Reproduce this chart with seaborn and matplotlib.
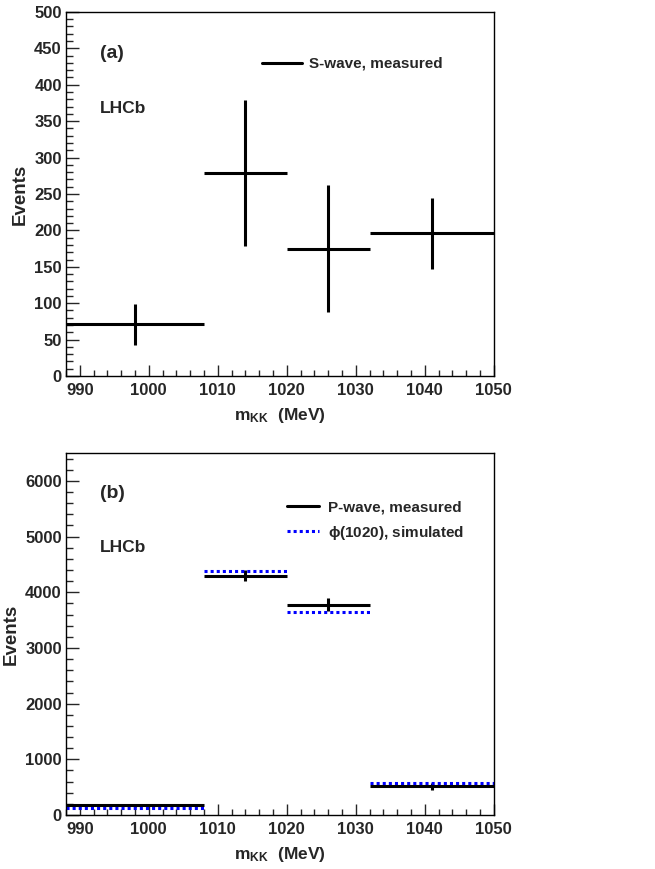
import numpy as np
import pandas as pd
import matplotlib
matplotlib.use("Agg")
import matplotlib.pyplot as plt
from matplotlib.lines import Line2D
from matplotlib.ticker import MultipleLocator
import seaborn as sns

# bin edges in m_KK (MeV)
bin_edges = [988, 1008, 1020, 1032, 1050]

# panel (a): S-wave yield
s_wave = [71, 279, 175, 196]
s_wave_err = [28, 100, 87, 49]

# panel (b): P-wave yield and phi(1020) simulation
p_wave = [175, 4295, 3780, 515]
p_wave_err = [30, 100, 110, 60]
phi_sim = [130, 4390, 3650, 570]

sns.set_theme(style="ticks")
plt.rcParams.update({
	"font.family": ["Liberation Sans", "DejaVu Sans"],
	"font.weight": "bold",
	"axes.labelweight": "bold",
	"axes.linewidth": 1.0,
	"axes.edgecolor": "black",
	"mathtext.fontset": "custom",
	"mathtext.rm": "Liberation Sans:weight=bold",
	"mathtext.bf": "Liberation Sans:weight=bold",
	"mathtext.it": "Liberation Sans:weight=bold",
	"mathtext.sf": "Liberation Sans:weight=bold",
})

edges = np.array(bin_edges, dtype=float)
centers = 0.5 * (edges[1:] + edges[:-1])
half = 0.5 * (edges[1:] - edges[:-1])

df_a = pd.DataFrame({"m": centers, "half": half, "n": s_wave, "err": s_wave_err})
df_b = pd.DataFrame({"m": centers, "half": half, "n": p_wave, "err": p_wave_err, "sim": phi_sim})

fig = plt.figure(figsize=(6.55, 8.69), dpi=100)
ax_a = fig.add_axes([0.1008, 0.5673, 0.653, 0.419])
ax_b = fig.add_axes([0.1008, 0.0621, 0.653, 0.4166])

lw = 2.2
font_size = 12


def style_axis(ax, ymax, ymajor, yminor):
	ax.set_xlim(988, 1050)
	ax.set_ylim(0, ymax)
	ax.xaxis.set_major_locator(MultipleLocator(10))
	ax.xaxis.set_minor_locator(MultipleLocator(2))
	ax.yaxis.set_major_locator(MultipleLocator(ymajor))
	ax.yaxis.set_minor_locator(MultipleLocator(yminor))
	ax.tick_params(axis="x", which="major", direction="in", length=7.7, width=1, pad=5,
		labelsize=font_size, top=False)
	ax.tick_params(axis="x", which="minor", direction="in", length=4, width=1, top=False)
	ax.tick_params(axis="y", which="major", direction="in", length=9, width=1, pad=3,
		labelsize=font_size, right=False)
	ax.tick_params(axis="y", which="minor", direction="in", length=4.8, width=1, right=False)
	for lab in ax.get_xticklabels() + ax.get_yticklabels():
		lab.set_fontweight("bold")
	ax.set_xlabel(r"$\mathrm{m_{KK}}$  (MeV)", fontsize=12.5, fontweight="bold", labelpad=6)
	ax.set_ylabel("Events", fontsize=13.5, fontweight="bold", labelpad=4)
	for s in ax.spines.values():
		s.set_linewidth(1.0)
		s.set_color("black")


# panel (a)
ax_a.errorbar(df_a["m"], df_a["n"], xerr=df_a["half"], yerr=df_a["err"], fmt="none",
	ecolor="black", elinewidth=lw, capsize=0)
style_axis(ax_a, 500, 50, 10)
ax_a.text(0.079, 0.887, "(a)", transform=ax_a.transAxes, fontsize=14, fontweight="bold", va="center")
ax_a.text(0.079, 0.736, "LHCb", transform=ax_a.transAxes, fontsize=12.5, fontweight="bold", va="center")
h_a = [Line2D([], [], color="black", lw=lw)]
ax_a.legend(h_a, ["S-wave, measured"], loc="center left", bbox_to_anchor=(0.458, 0.857),
	frameon=False, borderpad=0, borderaxespad=0, handlelength=2.6, handletextpad=0.5,
	prop=dict(size=11, weight="bold"))

# panel (b)
ax_b.errorbar(df_b["m"], df_b["n"], xerr=df_b["half"], yerr=df_b["err"], fmt="none",
	ecolor="black", elinewidth=lw, capsize=0)
ax_b.hlines(df_b["sim"], df_b["m"] - df_b["half"], df_b["m"] + df_b["half"],
	colors="#0000ff", linestyles=(0, (1, 1)), linewidth=lw)
style_axis(ax_b, 6500, 1000, 200)
ax_b.text(0.079, 0.889, "(b)", transform=ax_b.transAxes, fontsize=14, fontweight="bold", va="center")
ax_b.text(0.079, 0.738, "LHCb", transform=ax_b.transAxes, fontsize=12.5, fontweight="bold", va="center")
h_b = [Line2D([], [], color="black", lw=lw),
	Line2D([], [], color="#0000ff", lw=lw, linestyle=(0, (1, 1)))]
ax_b.legend(h_b, ["P-wave, measured", r"$\mathrm{\phi}$(1020), simulated"], loc="center left",
	bbox_to_anchor=(0.516, 0.812), frameon=False, borderpad=0, borderaxespad=0,
	handlelength=2.1, handletextpad=0.6, labelspacing=0.6,
	prop=dict(size=11, weight="bold"))

fig.savefig("out.png", dpi=100)
